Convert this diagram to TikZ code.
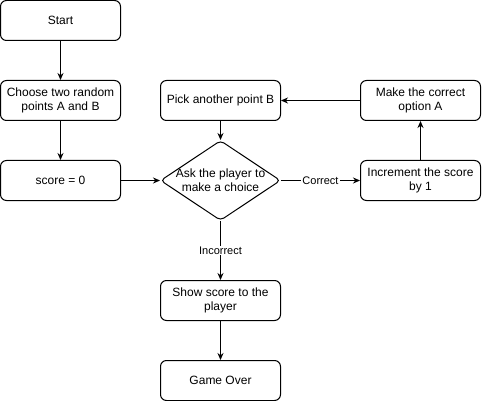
\documentclass[tikz,border=0pt]{standalone}
\usepackage{fontspec}
\setmainfont{Liberation Sans}
\usetikzlibrary{shapes.geometric,arrows.meta}
\begin{document}
\begin{tikzpicture}[x=1pt, y=-1pt, line width=1pt,
  flowbox/.style={rectangle, draw=black, rounded corners=6pt, minimum width=120pt, minimum height=40pt, inner sep=0pt, align=center, font=\fontsize{12}{14}\selectfont},
  choice/.style={diamond, draw=black, rounded corners=4pt, minimum width=120pt, minimum height=80pt, inner sep=0pt, aspect=1.5},
  flow/.style={draw=black, -{Stealth[length=7pt,width=6pt]}},
  edgelabel/.style={fill=white, inner sep=1pt, font=\fontsize{11}{13}\selectfont}]

\useasboundingbox (0,0) rectangle (482,401);

\node at (60.5,20.5)[flowbox] (start) {Start};
\node at (60.5,100.5)[flowbox] (choose) {Choose two random\\points A and B};
\node at (60.5,180.5)[flowbox] (score) {score = 0};

\node at (220.5,100.5)[flowbox] (pick) {Pick another point B};
\node at (220.5,180.5)[choice, label={[align=center, font=\fontsize{12}{14}\selectfont]center:Ask the player to\\make a choice}] (ask) {};
\node at (220.5,300.5)[flowbox] (show) {Show score to the\\player};
\node at (220.5,380.5)[flowbox] (over) {Game Over};

\node at (420.5,100.5)[flowbox] (make) {Make the correct\\option A};
\node at (420.5,180.5)[flowbox] (incr) {Increment the score\\by 1};

\draw[flow] (start) -- (choose);
\draw[flow] (choose) -- (score);
\draw[flow] (score) -- (ask);
\draw[flow] (pick) -- (ask);
\draw[flow] (ask) -- node[edgelabel]{Correct} (incr);
\draw[flow] (incr) -- (make);
\draw[flow] (make) -- (pick);
\draw[flow] (ask) -- node[edgelabel]{Incorrect} (show);
\draw[flow] (show) -- (over);

\end{tikzpicture}
\end{document}
